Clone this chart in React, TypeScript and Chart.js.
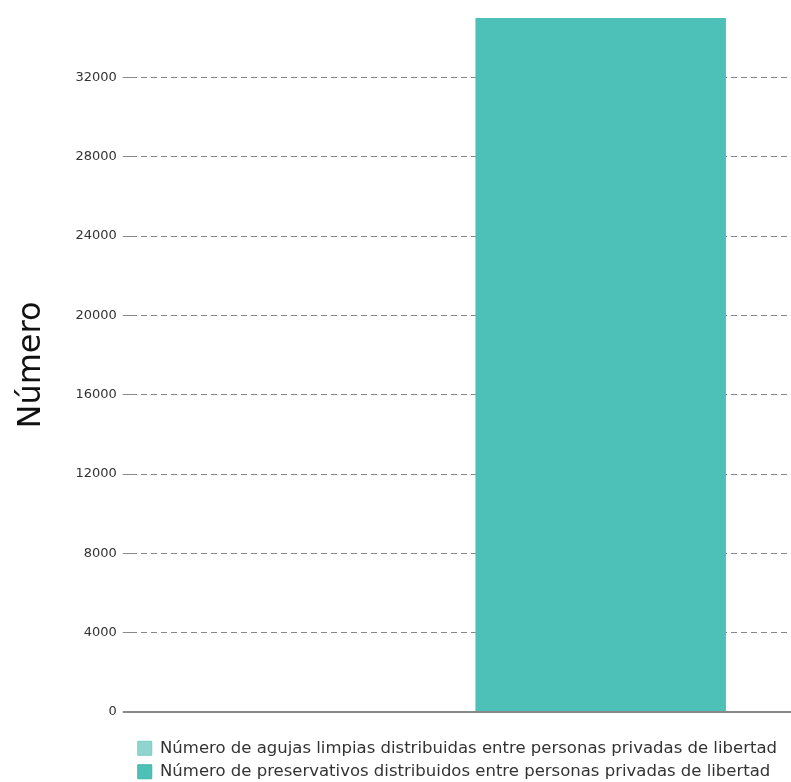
import React, { useEffect, useRef } from "react";
import { Chart, registerables } from "chart.js";

Chart.register(...registerables);

const categories = [""];
const seriesNames = [
  "Número de agujas limpias distribuidas entre personas privadas de libertad",
  "Número de preservativos distribuidos entre personas privadas de libertad",
];
const agujasValues = [0];
const preservativosValues = [35000];
const yMax = 35000;
const yTicks = [0, 4000, 8000, 12000, 16000, 20000, 24000, 28000, 32000];

export default function App() {
  const ref = useRef<HTMLCanvasElement>(null);
  useEffect(() => {
    if (!ref.current) return;
    document.body.style.margin = "0";
    const font = "'DejaVu Sans', sans-serif";
    const chart = new Chart(ref.current, {
      type: "bar",
      data: {
        labels: categories,
        datasets: [
          {
            label: seriesNames[0],
            data: agujasValues,
            backgroundColor: "#8fd4cf",
            borderColor: "#7ccac4",
            borderWidth: 0,
          },
          {
            label: seriesNames[1],
            data: preservativosValues,
            backgroundColor: "#4dc1b7",
            borderColor: "#3fb3a9",
            borderWidth: 0,
          },
        ],
      },
      options: {
        animation: false,
        responsive: false,
        maintainAspectRatio: false,
        layout: { autoPadding: false, padding: { top: 18, right: 0, left: 0, bottom: -8 } },
        datasets: { bar: { categoryPercentage: 0.847, barPercentage: 0.896 } },
        plugins: {
          legend: {
            position: "bottom",
            align: "start",
            fullSize: false,
            labels: {
              font: { family: font, size: 16.5 },
              color: "#333",
              boxWidth: 14,
              boxHeight: 14,
              padding: 7,
              generateLabels: (c: any) =>
                c.data.datasets.map((d: any, i: number) => ({
                  text: d.label,
                  fillStyle: d.backgroundColor,
                  strokeStyle: d.borderColor,
                  lineWidth: 1,
                  datasetIndex: i,
                  fontColor: "#333",
                })),
            },
          },
          tooltip: { enabled: false },
        },
        scales: {
          x: {
            grid: { display: false },
            border: { display: false },
            ticks: { display: false },
            afterFit: (s: any) => {
              s.height = 21;
            },
          },
          y: {
            type: "linear",
            min: 0,
            max: yMax,
            afterBuildTicks: (scale: any) => {
              scale.ticks = yTicks.map((v) => ({ value: v }));
            },
            ticks: {
              autoSkip: false,
              font: { family: font, size: 13 },
              color: "#333",
              padding: 6,
              callback: (v: any) => String(v),
            },
            border: {
              display: false,
              dash: (ctx: any) => (ctx.tick && ctx.tick.value === 0 ? [] : [6, 4]),
            },
            grid: {
              color: "#888",
              tickLength: 8,
              lineWidth: (ctx: any) => (ctx.tick && ctx.tick.value === 0 ? 2 : 1),
            },
            title: {
              display: true,
              text: "Número",
              font: { family: font, size: 32 },
              color: "#111",
              padding: { top: 12, bottom: 19 },
            },
          },
        },
      },
    });
    return () => chart.destroy();
  }, []);
  return (
    <div style={{ position: "fixed", left: 0, top: 0, width: 791, height: 782 }}>
      <canvas ref={ref} width={791} height={782} style={{ display: "block" }} />
    </div>
  );
}
